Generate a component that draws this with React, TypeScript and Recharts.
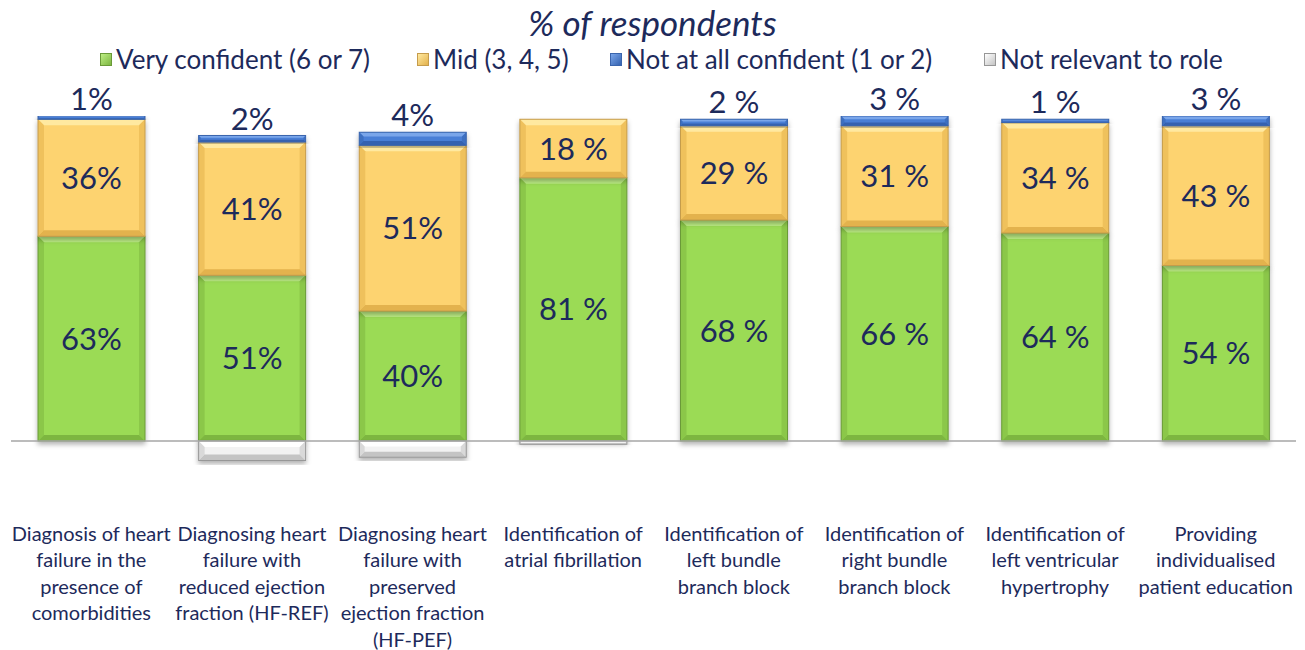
import React from 'react';
import { BarChart, Bar, XAxis, YAxis, ReferenceLine, LabelList } from 'recharts';

const categories = [
  'Diagnosis of heart\nfailure in the\npresence of\ncomorbidities',
  'Diagnosing heart\nfailure with\nreduced ejection\nfraction (HF-REF)',
  'Diagnosing heart\nfailure with\npreserved\nejection fraction\n(HF-PEF)',
  'Identification of\natrial fibrillation',
  'Identification of\nleft bundle\nbranch block',
  'Identification of\nright bundle\nbranch block',
  'Identification of\nleft ventricular\nhypertrophy',
  'Providing\nindividualised\npatient education',
];
const veryConfident = [63, 51, 40, 81, 68, 66, 64, 54];
const mid = [36, 41, 51, 18, 29, 31, 34, 43];
const notAtAll = [1, 2, 4, 0, 2, 3, 1, 3];
const notRelevant = [0, -6, -5, -1, 0, 0, 0, 0];
const veryLabels = ['63%', '51%', '40%', '81 %', '68 %', '66 %', '64 %', '54 %'];
const midLabels = ['36%', '41%', '51%', '18 %', '29 %', '31 %', '34 %', '43 %'];
const notAtAllLabels = ['1%', '2%', '4%', '', '2 %', '3 %', '1 %', '3 %'];

const seriesNames = ['Very confident (6 or 7)', 'Mid (3, 4, 5)', 'Not at all confident (1 or 2)', 'Not relevant to role'];

const data = categories.map((c, i) => ({
  category: c,
  very: veryConfident[i],
  mid: mid[i],
  notAtAll: notAtAll[i],
  notRelevant: notRelevant[i],
  veryLabel: veryLabels[i],
  midLabel: midLabels[i],
  notAtAllLabel: notAtAllLabels[i],
}));

const TEXT = '#1d2a5b';
const FONT = 'Lato, "Open Sans", sans-serif';

const palettes: Record<string, { base: string; light: string; dark: string; edge: string }> = {
  green: { base: '#9bdb55', light: '#bdee84', dark: '#7db641', edge: '#6a9a38' },
  yellow: { base: '#fdd36f', light: '#ffe9a0', dark: '#e3b24d', edge: '#c59c4c' },
  blue: { base: '#4a7fd6', light: '#7aa6ea', dark: '#3462b0', edge: '#3a65ad' },
  gray: { base: '#f2f2f2', light: '#ffffff', dark: '#c4c4c4', edge: '#979797' },
};

const makeShape = (key: string) => (props: any) => {
  const { x, y, width, height } = props;
  if (!height || Math.abs(height) < 0.5) return null;
  const p = palettes[key];
  const top = Math.min(y, y + height);
  const h = Math.abs(height);
  const b = Math.min(6, h / 3);
  return (
    <g filter="url(#barShadow)">
      <rect x={x} y={top} width={width} height={h} fill={p.base} />
      <polygon points={`${x},${top} ${x + width},${top} ${x + width - b},${top + b} ${x + b},${top + b}`} fill={p.light} />
      <polygon points={`${x},${top + h} ${x + width},${top + h} ${x + width - b},${top + h - b} ${x + b},${top + h - b}`} fill={p.dark} />
      <polygon points={`${x},${top} ${x + b},${top + b} ${x + b},${top + h - b} ${x},${top + h}`} fill={p.dark} opacity={0.55} />
      <polygon points={`${x + width},${top} ${x + width - b},${top + b} ${x + width - b},${top + h - b} ${x + width},${top + h}`} fill={p.dark} opacity={0.55} />
      <rect x={x} y={top} width={width} height={h} fill="none" stroke={p.edge} strokeWidth={1} />
    </g>
  );
};

const CategoryTick = (props: any) => {
  const { x, y, payload } = props;
  const lines = String(payload.value).split('\n');
  return (
    <text x={x} y={y} textAnchor="middle" fill={TEXT} fontFamily={FONT} fontSize={20}>
      {lines.map((l, i) => (
        <tspan key={i} x={x} dy={i === 0 ? 59 : 26.5}>{l}</tspan>
      ))}
    </text>
  );
};

const legendColors = [
  ['#bdee84', '#7db641', '#6a9a38'],
  ['#ffe9a0', '#e3b24d', '#c59c4c'],
  ['#7aa6ea', '#3462b0', '#3a65ad'],
  ['#ffffff', '#c4c4c4', '#979797'],
];
const legendLefts = [100, 417, 610, 984];

export default function App() {
  return (
    <div style={{ position: 'absolute', left: 0, top: 0, width: 1305, height: 650, background: '#fff', overflow: 'hidden' }}>
      <div style={{ position: 'absolute', left: 0, top: 1, width: 1305, textAlign: 'center', fontFamily: FONT, fontStyle: 'italic', fontSize: 35, color: TEXT, lineHeight: '42px' }}>
        % of respondents
      </div>
      {seriesNames.map((n, i) => (
        <div key={n} style={{ position: 'absolute', left: legendLefts[i], top: 44, height: 30, display: 'flex', alignItems: 'center', fontFamily: FONT, fontSize: 26, color: TEXT, whiteSpace: 'nowrap' }}>
          <span style={{ display: 'inline-block', width: 12, height: 13, marginRight: 4, background: `linear-gradient(135deg, ${legendColors[i][0]}, ${legendColors[i][1]})`, border: `1px solid ${legendColors[i][2]}`, boxSizing: 'border-box' }} />
          {n}
        </div>
      ))}
      <BarChart width={1305} height={650} data={data} stackOffset="sign" barSize={107}
        margin={{ top: 116, right: 9, bottom: 0, left: 11 }}>
        <defs>
          <filter id="barShadow" x="-10%" y="-10%" width="120%" height="130%">
            <feDropShadow dx="0" dy="3" stdDeviation="2.5" floodColor="#000" floodOpacity="0.3" />
          </filter>
        </defs>
        <YAxis hide domain={[-10, 100]} allowDataOverflow />
        <XAxis dataKey="category" axisLine={false} tickLine={false} height={176.5} interval={0} tick={<CategoryTick />} />
        <ReferenceLine y={0} stroke="#a6a6a6" strokeWidth={1.5} />
        <Bar dataKey="very" name={seriesNames[0]} stackId="a" fill="#9bdb55" isAnimationActive={false} shape={makeShape('green')}>
          <LabelList dataKey="veryLabel" position="center" fill={TEXT} fontFamily={FONT} fontSize={31} />
        </Bar>
        <Bar dataKey="mid" name={seriesNames[1]} stackId="a" fill="#fdd36f" isAnimationActive={false} shape={makeShape('yellow')}>
          <LabelList dataKey="midLabel" position="center" fill={TEXT} fontFamily={FONT} fontSize={31} />
        </Bar>
        <Bar dataKey="notAtAll" name={seriesNames[2]} stackId="a" fill="#4a7fd6" isAnimationActive={false} shape={makeShape('blue')}>
          <LabelList dataKey="notAtAllLabel" position="top" offset={6} fill={TEXT} fontFamily={FONT} fontSize={31} />
        </Bar>
        <Bar dataKey="notRelevant" name={seriesNames[3]} stackId="a" fill="#f2f2f2" isAnimationActive={false} shape={makeShape('gray')} />
      </BarChart>
    </div>
  );
}
